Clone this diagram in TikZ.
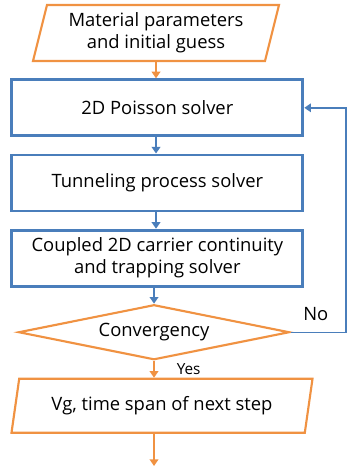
\documentclass[tikz,border=0pt]{standalone}
\usepackage{fontspec}
\setmainfont{Open Sans}
\usetikzlibrary{arrows.meta,positioning,shapes.geometric}
\definecolor{flowblue}{RGB}{74,126,187}
\definecolor{floworange}{RGB}{240,146,66}

\begin{document}
\begin{tikzpicture}[
            font=\fontsize{13.8}{16.5}\selectfont,
            node distance=12.2pt,
            solver/.style={draw=flowblue, line width=2.2pt, align=center, minimum height=42pt, minimum width=218.25pt, inner sep=1pt},
            io/.style={draw=floworange, line width=1.6pt, align=center, trapezium, trapezium stretches body, inner sep=1pt},
            check/.style={draw=floworange, line width=1.6pt, diamond, aspect=4.9, inner sep=0pt, minimum width=203.25pt, minimum height=41.25pt},
            arrow/.style={-{Triangle[length=5pt, width=6.5pt]}, line width=1.5pt},
            blueline/.style={arrow, draw=flowblue},
            orangeline/.style={arrow, draw=floworange}
        ]
            \useasboundingbox (0,0) rectangle (260.25pt,-349.5pt);
            \node[io, trapezium left angle=72, trapezium right angle=108, minimum width=184.5pt, minimum height=42pt] (input) at (117pt,-24.75pt) {Material parameters\\and initial guess};
            \node[solver, below=of input, xshift=1pt] (poisson) {2D Poisson solver};
            \node[solver, below=of poisson] (tunnel) {Tunneling process solver};
            \node[solver, below=of tunnel] (carrier) {Coupled 2D carrier continuity\\and trapping solver};
            \node[check, below=12pt of carrier, xshift=-2.5pt] (conv) {Convergency};
            \node[io, trapezium left angle=70, trapezium right angle=110, minimum width=225.75pt, minimum height=40.5pt, below=12.7pt of conv, xshift=6pt] (next) {Vg, time span of next step};
            \coordinate (corner) at (259.5pt,0 |- conv.east);
            \coordinate (stop) at (conv.south |- 0,-349.5pt);

            \draw[orangeline] (input.south) -- (poisson.north -| input.south);
            \draw[blueline] (poisson.south -| input.south) -- (tunnel.north -| input.south);
            \draw[blueline] (tunnel.south -| input.south) -- (carrier.north -| input.south);
            \draw[blueline] (carrier.south -| conv.north) -- (conv.north);
            \draw[orangeline] (conv.south) -- (conv.south |- next.north) node[pos=0.5, right=13pt, font=\fontsize{11.5}{13}\selectfont] {Yes};
            \draw[orangeline] (conv.south |- next.south) -- (stop);
            \draw[blueline, line width=1.1pt] (conv.east) -- (corner) |- (poisson.east);
            \node[above right=5pt and 6pt of conv.east] (no) {No};
        \end{tikzpicture}
\end{document}
